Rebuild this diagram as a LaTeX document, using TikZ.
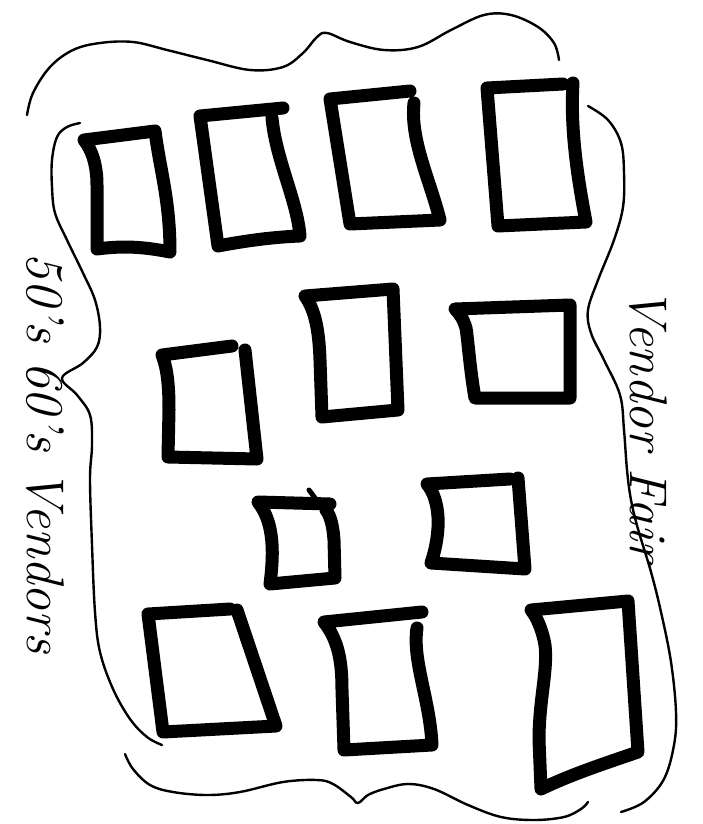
\documentclass[tikz,border=0pt]{standalone}
\usepackage{tikz}
\begin{document}
\begin{tikzpicture}[
    x=1pt, y=-1pt,
    booth/.style={draw, line width=13pt, line cap=round, line join=round},
    rim/.style={draw, line width=2.4pt, line cap=round, line join=round},
    sign/.style={font=\fontsize{53}{60}\selectfont\itshape, rotate=-90, inner sep=0pt},
  ]
  \useasboundingbox (0,0) rectangle (702,824);

  \draw[rim] plot[smooth, tension=0.6] coordinates {(27,115) (33,93) (50,67) (73,50) (100,43) (133,42) (167,50) (207,60) (250,70) (283,67) (303,53) (317,37) (327,33) (350,42) (384,50) (418,47) (451,30) (484,15) (511,15) (538,27) (554,43) (559,60)};
  \draw[rim] plot[smooth, tension=0.6] coordinates {(588,106) (608,120) (621,143) (624,173) (623,207) (614,240) (598,280) (588,310) (591,333) (604,360) (620,395) (624,430) (627,470) (631,500) (638,529) (651,572) (661,612) (671,662) (676,712) (674,745) (664,779) (644,802) (621,812)};
  \draw[rim] plot[smooth, tension=0.6] coordinates {(125,754) (133,769) (150,785) (173,792) (207,795) (240,792) (283,782) (317,780) (333,784) (351,797) (358,803) (368,795) (384,789) (408,784) (434,789) (468,805) (501,817) (534,820) (564,817) (581,809) (588,802)};
  \draw[rim] plot[smooth, tension=0.6] coordinates {(80,123) (67,127) (57,137) (52,160) (52,187) (55,213) (67,240) (83,273) (95,300) (100,327) (97,347) (83,363) (62,378) (77,395) (90,415) (92,445) (90,479) (92,545) (95,612) (100,652) (113,689) (130,719) (147,737) (162,745)};

  \draw[booth] (84,140) -- (155,131) .. controls (160,170) and (170,200) .. (170,252)
    .. controls (140,246) and (120,246) .. (97,249) -- (97,185) .. controls (97,165) and (92,150) .. (84,140) -- cycle;
  \draw[booth] (283,108) -- (200,116) -- (218,246) .. controls (250,240) and (275,237) .. (300,236)
    .. controls (297,200) and (276,160) .. (272,118);
  \draw[booth] (410,91) -- (330,99) -- (350,224) -- (440,220) .. controls (430,180) and (410,140) .. (414,103);
  \draw[booth] (563,84) -- (487,88) -- (498,226) -- (586,222) .. controls (578,180) and (570,130) .. (573,83);

  \draw[booth] (232,346) -- (162,355) .. controls (168,370) and (169,390) .. (169,410) -- (168,457) -- (257,459) -- (245,350);
  \draw[booth] (305,296) -- (393,289) -- (398,410) -- (322,417) -- (320,360) .. controls (319,330) and (315,310) .. (305,296) -- cycle;
  \draw[booth] (455,309) -- (570,305) -- (570,398) -- (475,398) .. controls (470,370) and (468,340) .. (466,328)
    .. controls (463,318) and (459,313) .. (455,309) -- cycle;

  \draw[booth] (330,504) -- (258,502) .. controls (272,520) and (275,545) .. (270,584) -- (335,578)
    -- (334,540) .. controls (333,525) and (330,515) .. (326,510);
  \draw[booth, line width=5pt] (309,490) -- (318,502);
  \draw[booth] (510,479) -- (427,484) .. controls (440,500) and (442,530) .. (431,563) -- (525,569) -- (518,478);

  \draw[booth] (230,609) -- (148,614) -- (163,732) -- (276,726) -- (237,610);
  \draw[booth] (422,612) -- (324,622) .. controls (338,640) and (342,660) .. (342,690) -- (344,750)
    -- (432,745) .. controls (430,700) and (412,660) .. (417,628);
  \draw[booth] (531,610) -- (628,601) -- (638,752) .. controls (600,765) and (570,775) .. (541,789)
    -- (539,740) .. controls (539,700) and (548,670) .. (545,645) .. controls (542,628) and (536,616) .. (531,610) -- cycle;

  \node[sign] (fair) at (648,425) {Vendor Fair};
  \node[sign] (sixties) at (45,453) {50's 60's Vendors};
\end{tikzpicture}
\end{document}
